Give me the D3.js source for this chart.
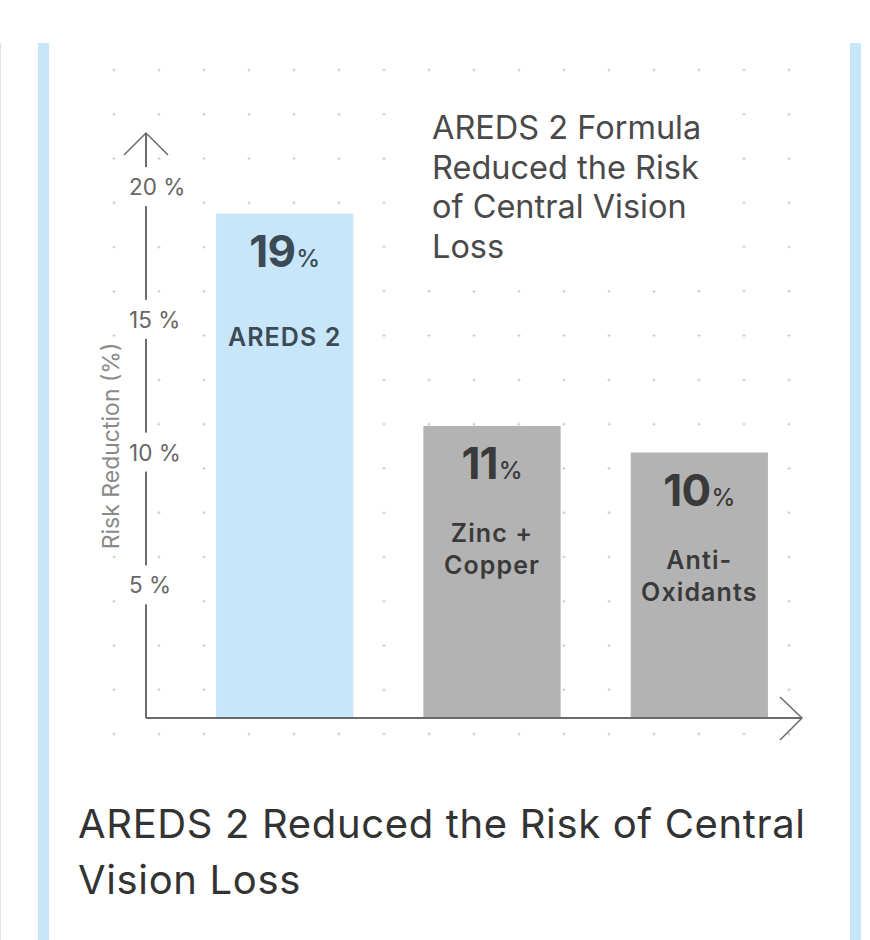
<!DOCTYPE html>
<html>
<head>
<meta charset="utf-8">
<script src="https://cdn.jsdelivr.net/npm/d3@7"></script>
<style>
  body { margin: 0; background: #fff; }
  svg { display: block; font-family: Inter, "Noto Sans", sans-serif; }
</style>
</head>
<body>
<svg id="chart" width="870" height="940"></svg>
<script>
const categories = ["AREDS 2", "Zinc + Copper", "Anti-Oxidants"];
const barLabelLines = [["AREDS 2"], ["Zinc +", "Copper"], ["Anti-", "Oxidants"]];
const values = [19, 11, 10];
const barColors = ["#c8e6fa", "#b3b3b3", "#b3b3b3"];
const labelColors = ["#3b4a55", "#3a3a3a", "#3a3a3a"];
const yTicks = [5, 10, 15, 20];
const yLabel = "Risk Reduction (%)";
const noteLines = ["AREDS 2 Formula", "Reduced the Risk", "of Central Vision", "Loss"];
const titleLines = ["AREDS 2 Reduced the Risk of Central", "Vision Loss"];

const svg = d3.select("#chart");

// page frame: light blue side bars
svg.append("line")
    .attr("x1", 0.5).attr("x2", 0.5).attr("y1", 43).attr("y2", 940)
    .attr("stroke", "#e2e2e2");
svg.append("rect").attr("x", 38).attr("y", 43).attr("width", 11).attr("height", 897).attr("fill", "#c8e6fa");
svg.append("rect").attr("x", 850).attr("y", 43).attr("width", 11).attr("height", 897).attr("fill", "#c8e6fa");

const axisX = 146, baseY = 718;

const x = d3.scaleBand()
    .domain(categories)
    .range([axisX, 838])
    .padding(0.338);

const y = d3.scaleLinear()
    .domain([0, 20])
    .range([baseY, 187]);

// dotted background grid
const dots = svg.append("g").attr("class", "dots");
const cols = d3.range(16).map(i => 114 + i * 45);
const rows = d3.range(16).map(j => 70 + j * 44.27);
rows.forEach(ry => {
    cols.forEach(cx => {
        dots.append("path")
            .attr("d", `M${cx - 1.5},${ry}h3M${cx},${ry - 1.5}v3`)
            .attr("stroke", "#c9c9c9")
            .attr("stroke-width", 1);
    });
});

// helper: text with a white box behind it
function boxedText(g, pad) {
    const bb = g.node().getBBox();
    g.insert("rect", ":first-child")
        .attr("x", bb.x - pad[0]).attr("y", bb.y - pad[1])
        .attr("width", bb.width + pad[0] * 2).attr("height", bb.height + pad[1] * 2)
        .attr("fill", "#fff");
}

// note in top right
const note = svg.append("g").attr("class", "note");
note.append("text")
    .attr("x", 432)
    .attr("y", 139)
    .attr("font-size", 32.5)
    .attr("fill", "#4a4a4a")
    .selectAll("tspan")
    .data(noteLines)
    .join("tspan")
    .attr("x", 432)
    .attr("dy", (d, i) => i === 0 ? 0 : 39.6)
    .text(d => d);
boxedText(note, [12, 10]);

// bars
const bars = svg.append("g").attr("class", "bars");
bars.selectAll("rect")
    .data(values)
    .join("rect")
    .attr("x", (d, i) => x(categories[i]))
    .attr("y", d => y(d))
    .attr("width", x.bandwidth())
    .attr("height", d => baseY - y(d))
    .attr("fill", (d, i) => barColors[i]);

// value labels
const valueText = bars.selectAll("text.value")
    .data(values)
    .join("text")
    .attr("class", "value")
    .attr("x", (d, i) => x(categories[i]) + x.bandwidth() / 2)
    .attr("y", d => y(d) + 53)
    .attr("text-anchor", "middle")
    .attr("font-weight", 700)
    .attr("fill", (d, i) => labelColors[i]);
valueText.append("tspan").attr("font-size", 44).attr("letter-spacing", -0.8).text(d => d);
valueText.append("tspan").attr("font-size", 24).attr("font-weight", 500).attr("dx", 1).text("%");

// category labels inside bars
bars.selectAll("text.cat")
    .data(values)
    .join("text")
    .attr("class", "cat")
    .attr("text-anchor", "middle")
    .attr("font-size", 25)
    .attr("font-weight", 600)
    .attr("letter-spacing", 1.1)
    .attr("fill", (d, i) => labelColors[i])
    .each(function (d, i) {
        const lines = barLabelLines[i];
        const cx = x(categories[i]) + x.bandwidth() / 2;
        const first = y(d) + 132 - (lines.length - 1) * 16;
        d3.select(this).selectAll("tspan")
            .data(lines)
            .join("tspan")
            .attr("x", cx)
            .attr("y", (l, k) => first + k * 32)
            .text(l => l);
    });

// axes
const axis = svg.append("g").attr("class", "axes")
    .attr("stroke", "#6b6b6b").attr("fill", "none");
axis.append("line")
    .attr("x1", axisX).attr("x2", axisX).attr("y1", 133).attr("y2", baseY)
    .attr("stroke-width", 2);
axis.append("line")
    .attr("x1", axisX).attr("x2", 802).attr("y1", baseY).attr("y2", baseY)
    .attr("stroke-width", 2);
axis.append("path")
    .attr("d", `M${axisX - 22},155L${axisX},133L${axisX + 22},155`)
    .attr("stroke-width", 1.5);
axis.append("path")
    .attr("d", `M780,${baseY - 21}L802,${baseY}L780,${baseY + 22}`)
    .attr("stroke-width", 1.5);

// y tick labels with white background over the axis line
const ticks = svg.append("g").attr("class", "ticks");
yTicks.forEach(t => {
    const g = ticks.append("g");
    g.append("text")
        .attr("x", 129)
        .attr("y", y(t))
        .attr("dy", "0.36em")
        .attr("font-size", 22.5)
        .attr("fill", "#666")
        .text(t + " %");
    boxedText(g, [3, 6]);
});

// y axis label
const yl = svg.append("g").attr("class", "ylabel");
yl.append("text")
    .attr("transform", "translate(119,446) rotate(-90)")
    .attr("text-anchor", "middle")
    .attr("font-size", 23)
    .attr("fill", "#8a8a8a")
    .text(yLabel);
boxedText(yl, [2, 2]);

// bottom title
svg.append("g").attr("class", "title")
    .selectAll("text")
    .data(titleLines)
    .join("text")
    .attr("x", 78)
    .attr("y", (d, i) => 838 + i * 56)
    .attr("font-size", 40)
    .attr("letter-spacing", 0.65)
    .attr("fill", "#333")
    .text(d => d);
</script>
</body>
</html>
